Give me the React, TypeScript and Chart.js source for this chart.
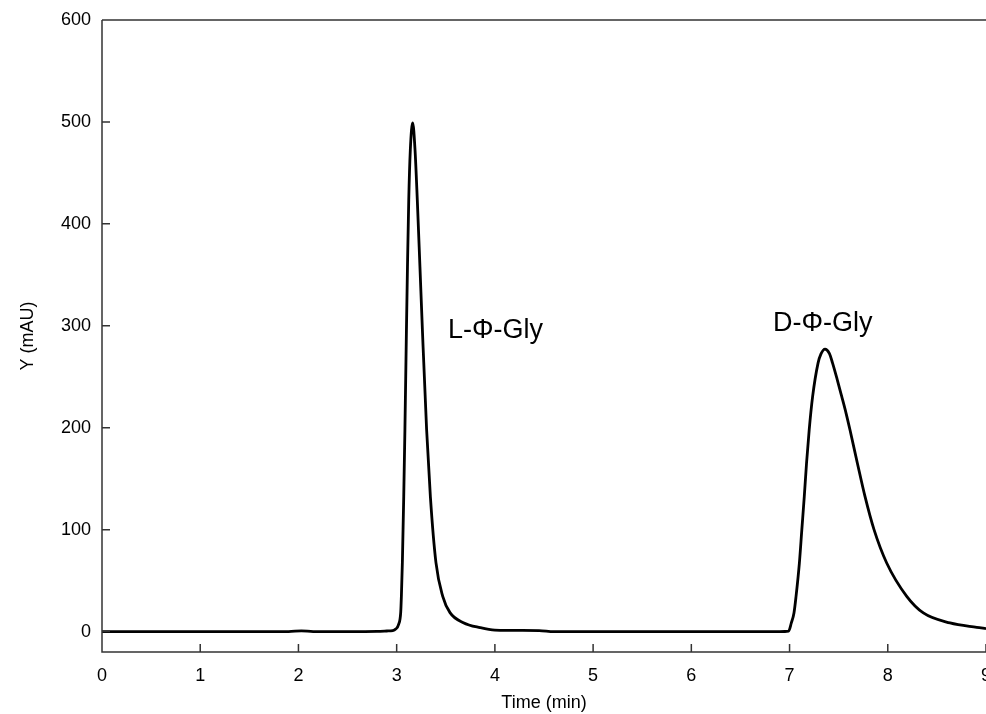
import React, { useEffect, useRef } from "react";
import { Chart, registerables } from "chart.js";

Chart.register(...registerables);

// Retention time (min) and absorbance (mAU)
const timeMin = [
  0, 1.0, 1.9, 2.03, 2.15, 2.8, 2.9, 2.96, 2.99, 3.02, 3.041, 3.048, 3.058, 3.072, 3.084, 3.099,
  3.11, 3.123, 3.139, 3.163, 3.187, 3.21, 3.237, 3.262, 3.305, 3.343, 3.4, 3.469, 3.543, 3.679,
  3.85, 4.0, 4.45, 4.6, 6.0, 6.9, 6.99, 7.018, 7.045, 7.066, 7.1, 7.125, 7.15, 7.173, 7.2,
  7.235, 7.29, 7.32, 7.361, 7.405, 7.438, 7.486, 7.531, 7.575, 7.615, 7.69, 7.768, 7.86, 7.989,
  8.193, 8.362, 8.634, 8.906, 9.0,
];
const absorbance = [
  0, 0, 0, 0.8, 0, 0.3, 0.6, 1, 2.5, 7, 18.6, 34.6, 67.6, 132.6, 198, 293,
  357.8, 423.5, 472.5, 499, 472.5, 423.5, 357.8, 296, 198, 132.6, 67.6, 34.6, 18.6, 8.8,
  3.9, 1.5, 1, 0, 0, 0, 0.5, 8.5, 18.3, 34.6, 67.3, 100, 132.6, 165.4, 198,
  230.7, 263.4, 272.5, 277.2, 273, 263.4, 247, 230.7, 214.4, 198, 165.4, 132.6, 100, 67.3,
  34.6, 18.3, 8.5, 4.2, 3,
];

const xTicks = [0, 1, 2, 3, 4, 5, 6, 7, 8, 9];
const yTicks = [0, 100, 200, 300, 400, 500, 600];

const peakLabels = ["L-\u03A6-Gly", "D-\u03A6-Gly"];
const peakLabelX = [3.523, 6.832];
const peakLabelY = [288, 295];

const FONT = "'Liberation Sans', Arial, Helvetica, sans-serif";

const framePlugin = {
  id: "frameTicks",
  afterDraw(chart: any) {
    const { ctx, chartArea } = chart;
    const { left, right, top, bottom } = chartArea;
    const xs = chart.scales.x;
    const ys = chart.scales.y;
    ctx.save();
    ctx.strokeStyle = "#333";
    ctx.lineWidth = 1.5;
    ctx.beginPath();
    ctx.moveTo(left, top);
    ctx.lineTo(right, top);
    ctx.moveTo(left, top);
    ctx.lineTo(left, bottom);
    ctx.lineTo(right, bottom);
    const tl = 8;
    xTicks.forEach((v) => {
      const px = xs.getPixelForValue(v);
      ctx.moveTo(px, bottom);
      ctx.lineTo(px, bottom - tl);
    });
    yTicks.forEach((v) => {
      const py = ys.getPixelForValue(v);
      ctx.moveTo(left, py);
      ctx.lineTo(left + tl, py);
    });
    ctx.stroke();

    ctx.fillStyle = "#000";
    ctx.font = `27px ${FONT}`;
    ctx.textAlign = "left";
    ctx.textBaseline = "alphabetic";
    peakLabels.forEach((t, i) => {
      ctx.fillText(t, xs.getPixelForValue(peakLabelX[i]), ys.getPixelForValue(peakLabelY[i]));
    });
    ctx.restore();
  },
};

export default function App() {
  const ref = useRef<HTMLCanvasElement | null>(null);

  useEffect(() => {
    if (!ref.current) return;
    const points = timeMin.map((t, i) => ({ x: t, y: absorbance[i] }));
    const chart = new Chart(ref.current, {
      type: "line",
      data: {
        datasets: [
          {
            data: points,
            borderColor: "#000",
            borderWidth: 2.8,
            pointRadius: 0,
            fill: false,
            cubicInterpolationMode: "monotone",
          },
        ],
      },
      options: {
        responsive: false,
        animation: false,
        events: [],
        layout: { padding: { top: 20, right: 0, left: 0, bottom: 0 }, autoPadding: false },
        plugins: { legend: { display: false }, tooltip: { enabled: false } },
        scales: {
          x: {
            type: "linear",
            min: 0,
            max: 9,
            afterBuildTicks: (s: any) => {
              s.ticks = xTicks.map((v) => ({ value: v }));
            },
            afterFit: (s: any) => {
              s.height = 62;
              s.paddingLeft = 0;
              s.paddingRight = 0;
            },
            grid: { display: false, drawTicks: false },
            border: { display: false },
            ticks: {
              color: "#000",
              font: { family: FONT, size: 18 },
              padding: 13,
              maxRotation: 0,
              autoSkip: false,
            },
            title: {
              display: true,
              text: "Time (min)",
              color: "#000",
              font: { family: FONT, size: 18, lineHeight: 1.2 },
              padding: { top: 0, bottom: 0 },
            },
          },
          y: {
            type: "linear",
            min: -20,
            max: 600,
            afterBuildTicks: (s: any) => {
              s.ticks = yTicks.map((v) => ({ value: v }));
            },
            afterFit: (s: any) => {
              s.width = 102;
              s.paddingTop = 0;
              s.paddingBottom = 0;
            },
            grid: { display: false, drawTicks: false },
            border: { display: false },
            ticks: {
              color: "#000",
              font: { family: FONT, size: 18 },
              padding: 11,
              autoSkip: false,
            },
            title: {
              display: true,
              text: "Y (mAU)",
              color: "#000",
              font: { family: FONT, size: 18, lineHeight: 1.2 },
              padding: { top: 17, bottom: 0 },
            },
          },
        },
      },
      plugins: [framePlugin],
    } as any);
    return () => chart.destroy();
  }, []);

  return (
    <div style={{ position: "fixed", left: 0, top: 0, width: 986, height: 714, background: "#fff" }}>
      <canvas ref={ref} width={986} height={714} style={{ display: "block" }} />
    </div>
  );
}
